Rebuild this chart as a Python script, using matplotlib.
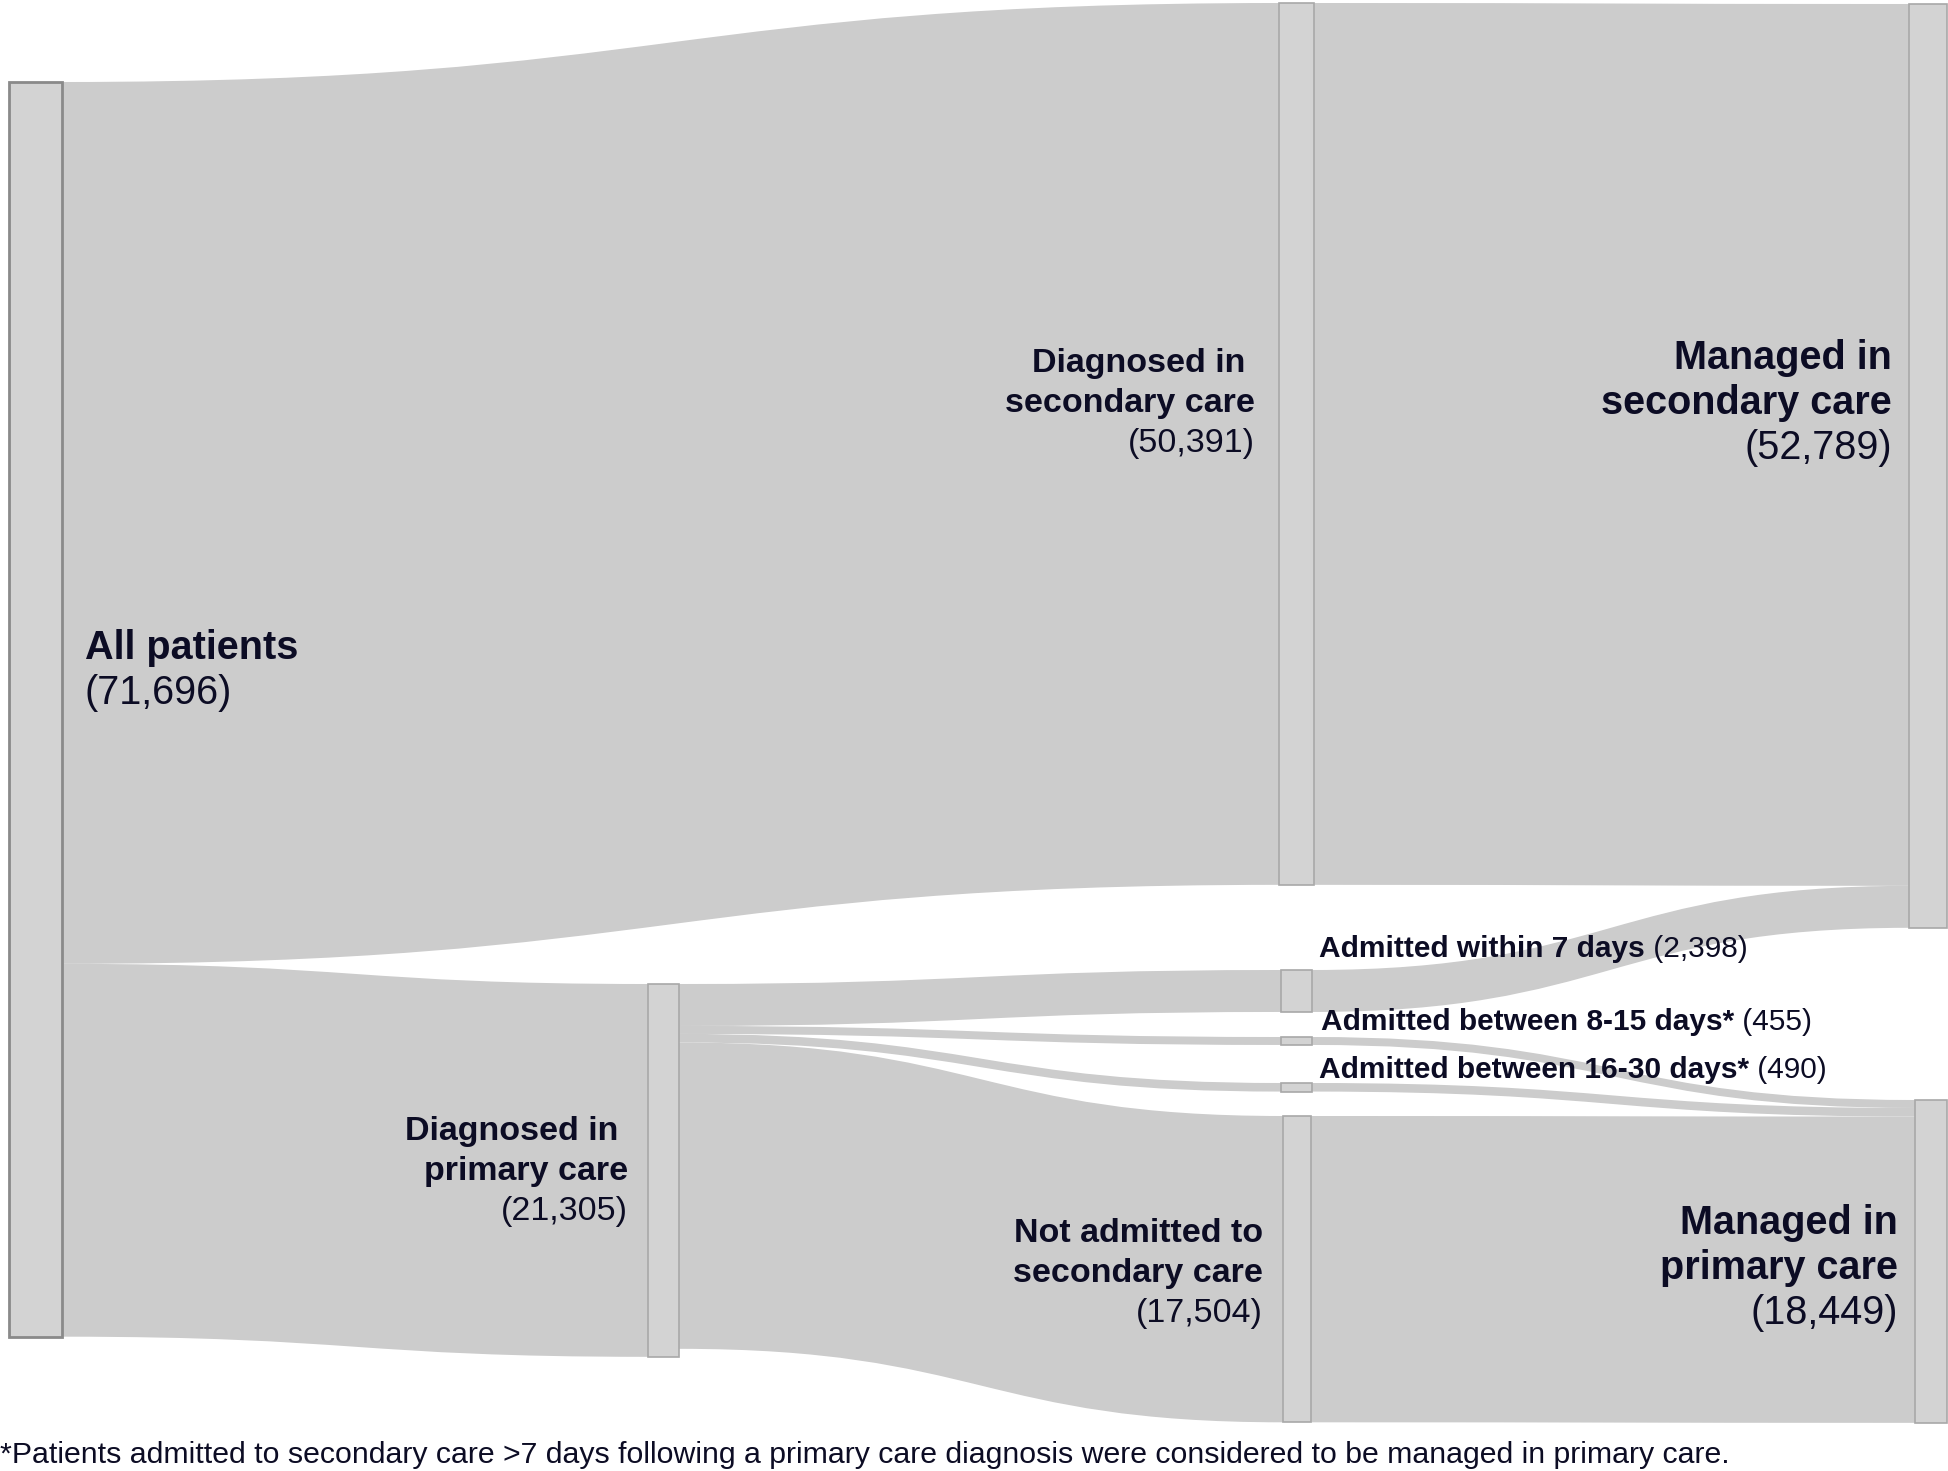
import matplotlib
matplotlib.use("Agg")
import matplotlib.pyplot as plt
from matplotlib.path import Path
from matplotlib.patches import PathPatch, Rectangle

# ---- data ----
node_names = ["all", "dx_sec", "dx_prim", "within7", "d8_15", "d16_30",
              "not_adm", "man_sec", "man_prim"]
node_values = [71696, 50391, 21305, 2398, 455, 490, 17504, 52789, 18449]

link_source = ["all", "all", "dx_prim", "dx_prim", "dx_prim", "dx_prim",
               "dx_sec", "within7", "d8_15", "d16_30", "not_adm"]
link_target = ["dx_sec", "dx_prim", "within7", "d8_15", "d16_30", "not_adm",
               "man_sec", "man_sec", "man_prim", "man_prim", "man_prim"]
link_values = [50391, 21305, 2398, 455, 490, 17504,
               50391, 2398, 455, 490, 17504]

big_labels = {"all": ["All patients"],
              "man_sec": ["Managed in", "secondary care"],
              "man_prim": ["Managed in", "primary care"]}
mid_labels = {"dx_sec": ["Diagnosed in ", "secondary care"],
              "dx_prim": ["Diagnosed in ", "primary care"],
              "not_adm": ["Not admitted to", "secondary care"]}
small_labels = {"within7": "Admitted within 7 days",
                "d8_15": "Admitted between 8-15 days*",
                "d16_30": "Admitted between 16-30 days*"}
footnote = ("*Patients admitted to secondary care >7 days following a primary "
            "care diagnosis were considered to be managed in primary care.")

# ---- layout (pixels) ----
SCALE = 0.0175          # px per patient
node_x = {"all": (9, 53), "dx_prim": (648, 31),
          "dx_sec": (1279, 35), "within7": (1281, 31), "d8_15": (1281, 31),
          "d16_30": (1281, 31), "not_adm": (1283, 28),
          "man_sec": (1909, 38), "man_prim": (1915, 32)}
node_top = {"all": 82, "dx_sec": 3, "dx_prim": 984, "within7": 970,
            "d8_15": 1037, "d16_30": 1083, "not_adm": 1116,
            "man_sec": 4, "man_prim": 1100}

LINK_C = "#cccccc"
NODE_FC = "#d3d3d3"
TXT = "#0c0c24"
FONT = "Liberation Sans"

fig = plt.figure(figsize=(19.49, 14.71), dpi=100)
ax = fig.add_axes([0, 0, 1, 1])
ax.set_xlim(0, 1949)
ax.set_ylim(1471, 0)
ax.axis("off")

val = dict(zip(node_names, node_values))
out_off = {n: 0.0 for n in node_names}
in_off = {n: 0.0 for n in node_names}


def band(x0, y0, x1, y1, h):
    xm = (x0 + x1) / 2
    verts = [(x0, y0), (xm, y0), (xm, y1), (x1, y1),
             (x1, y1 + h), (xm, y1 + h), (xm, y0 + h), (x0, y0 + h),
             (x0, y0)]
    codes = [Path.MOVETO, Path.CURVE4, Path.CURVE4, Path.CURVE4,
             Path.LINETO, Path.CURVE4, Path.CURVE4, Path.CURVE4,
             Path.CLOSEPOLY]
    return Path(verts, codes)


for s, t, v in zip(link_source, link_target, link_values):
    h = v * SCALE
    sx, sw = node_x[s]
    tx, tw = node_x[t]
    y0 = node_top[s] + out_off[s]
    y1 = node_top[t] + in_off[t]
    out_off[s] += h
    in_off[t] += h
    ax.add_patch(PathPatch(band(sx + sw, y0, tx, y1, h), fc=LINK_C,
                           ec="none", zorder=1))

for n in node_names:
    x, w = node_x[n]
    ec, lw = ("#8a8a8a", 2.0) if n == "all" else ("#a8a8a8", 1.2)
    ax.add_patch(Rectangle((x, node_top[n]), w, val[n] * SCALE, fc=NODE_FC,
                           ec=ec, lw=lw, zorder=2))


def txt(x, y, s, size, bold, ha):
    return ax.text(x, y, s, fontsize=size, ha=ha, va="baseline", color=TXT,
                   fontweight="bold" if bold else "normal", family=FONT,
                   zorder=3)


# big labels
big_pos = {"all": (85, 659, "left"), "man_sec": (1892, 369, "right"),
           "man_prim": (1898, 1234, "right")}
for n, lines in big_labels.items():
    x, y, ha = big_pos[n]
    for i, line in enumerate(lines):
        txt(x, y + i * 45, line, 28.5, True, ha)
    txt(x, y + len(lines) * 45, f"({val[n]:,})", 28.5, False, ha)

# mid labels
mid_pos = {"dx_sec": (1255, 372), "dx_prim": (628, 1140),
           "not_adm": (1263, 1242)}
for n, lines in mid_labels.items():
    x, y = mid_pos[n]
    for i, line in enumerate(lines):
        txt(x, y + i * 40, line, 24.5, True, "right")
    txt(x, y + len(lines) * 40, f"({val[n]:,})", 24.5, False, "right")

# small inline labels
small_pos = {"within7": (1319, 957), "d8_15": (1321, 1030),
             "d16_30": (1319, 1078)}
for n, s in small_labels.items():
    x, y = small_pos[n]
    t = txt(x, y, s, 21.5, True, "left")
    ax.annotate(f" ({val[n]:,})", xy=(1, y), xycoords=(t, "data"),
                fontsize=21.5, ha="left", va="baseline", color=TXT,
                family=FONT, zorder=3)

txt(0, 1463, footnote, 21.8, False, "left")

fig.savefig("out.png", dpi=100)
